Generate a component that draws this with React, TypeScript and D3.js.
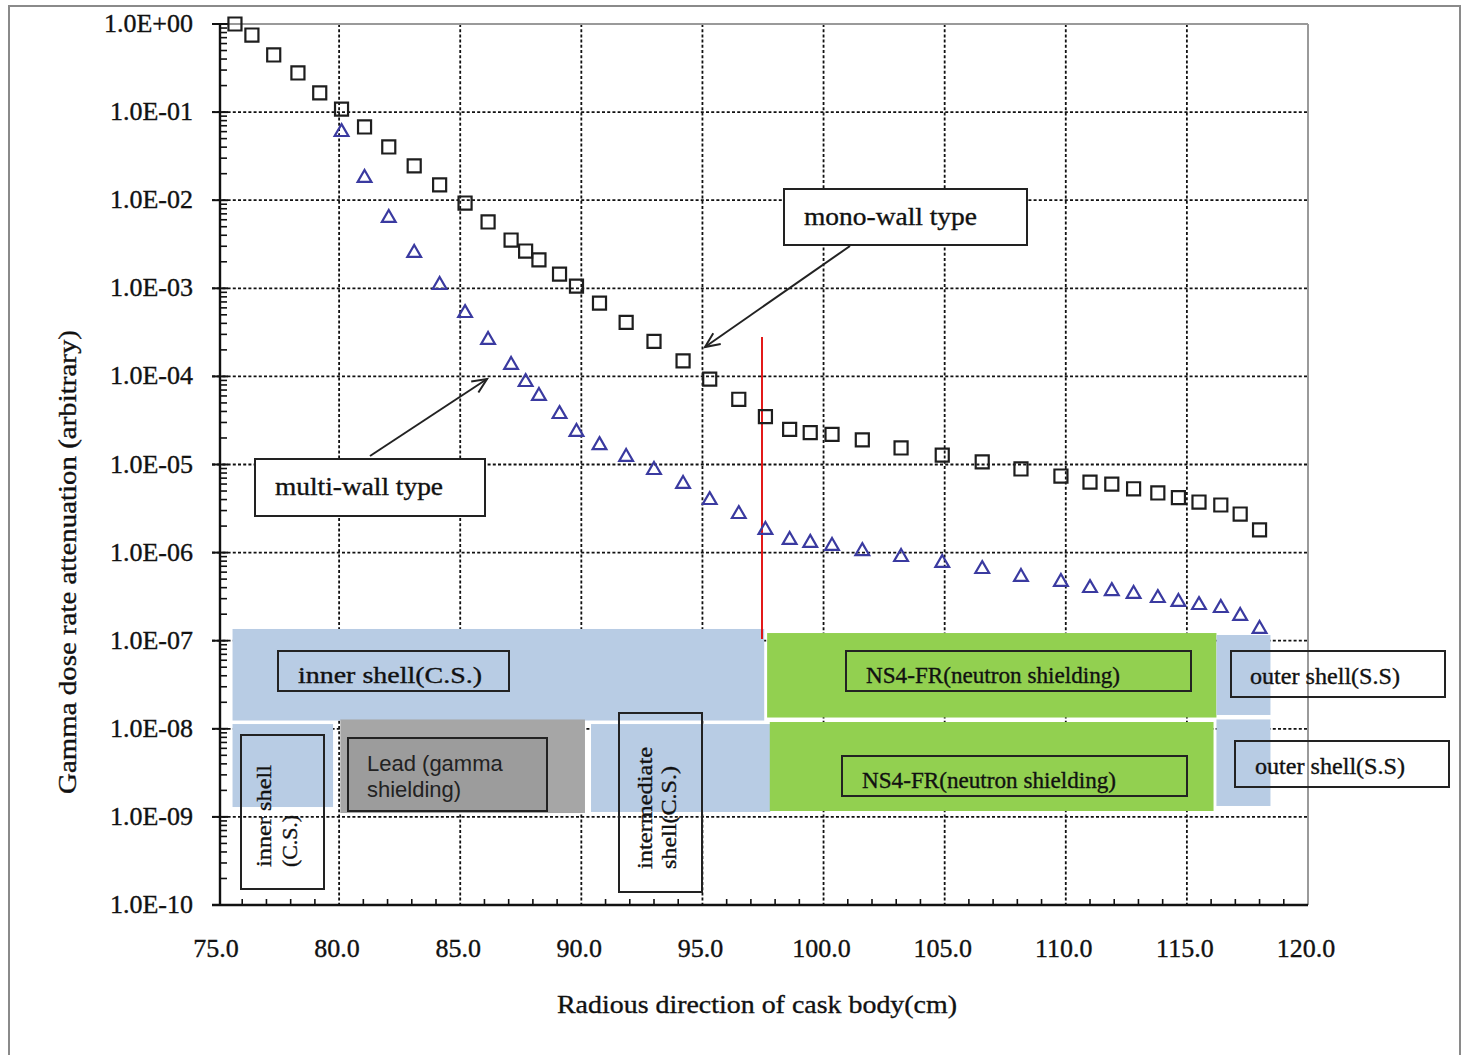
import React from 'react';
import * as d3 from 'd3';

// ---- data ----
const radius = [75.7, 76.4, 77.3, 78.3, 79.2, 80.1, 81.05, 82.05, 83.1, 84.15, 85.2, 86.15, 87.1, 87.7, 88.25, 89.1, 89.8, 90.75, 91.85, 93.0, 94.2, 95.3, 96.5, 97.6, 98.6, 99.45, 100.35, 101.6, 103.2, 104.9, 106.55, 108.15, 109.8, 111.0, 111.9, 112.8, 113.8, 114.65, 115.5, 116.4, 117.2, 118.0];
const monoWall = [1.0, 0.75, 0.445, 0.278, 0.165, 0.108, 0.0678, 0.0402, 0.0245, 0.0149, 0.00929, 0.00566, 0.00353, 0.00265, 0.0021, 0.00145, 0.00106, 6.8e-4, 4.1e-4, 2.5e-4, 1.5e-4, 9.3e-5, 5.5e-5, 3.5e-5, 2.5e-5, 2.3e-5, 2.2e-5, 1.9e-5, 1.54e-5, 1.28e-5, 1.07e-5, 8.9e-6, 7.4e-6, 6.3e-6, 6.0e-6, 5.3e-6, 4.75e-6, 4.2e-6, 3.75e-6, 3.47e-6, 2.74e-6, 1.81e-6];
const multiWall = [null, null, null, null, null, 0.0594, 0.0179, 0.00628, 0.00252, 0.00109, 5.24e-4, 2.59e-4, 1.35e-4, 8.63e-5, 6.0e-5, 3.74e-5, 2.34e-5, 1.66e-5, 1.22e-5, 8.66e-6, 6.01e-6, 3.95e-6, 2.74e-6, 1.81e-6, 1.39e-6, 1.29e-6, 1.19e-6, 1.04e-6, 8.91e-7, 7.62e-7, 6.51e-7, 5.29e-7, 4.64e-7, 3.96e-7, 3.66e-7, 3.39e-7, 3.05e-7, 2.75e-7, 2.54e-7, 2.35e-7, 1.91e-7, 1.36e-7];

const xTicks = [75, 80, 85, 90, 95, 100, 105, 110, 115, 120];
const xTickLabels = ['75.0', '80.0', '85.0', '90.0', '95.0', '100.0', '105.0', '110.0', '115.0', '120.0'];
const yExponents = [0, -1, -2, -3, -4, -5, -6, -7, -8, -9, -10];
const yTickLabels = ['1.0E+00', '1.0E-01', '1.0E-02', '1.0E-03', '1.0E-04', '1.0E-05', '1.0E-06', '1.0E-07', '1.0E-08', '1.0E-09', '1.0E-10'];

// shielding layers: [r0, r1] in cm, [top exponent, bottom exponent], material
const monoLayers = [
  { r0: 75.6, r1: 97.55, e0: -6.867, e1: -7.906, mat: 'cs' },
  { r0: 97.67, r1: 116.22, e0: -6.913, e1: -7.872, mat: 'ns' },
  { r0: 116.22, r1: 118.45, e0: -6.935, e1: -7.843, mat: 'cs' },
];
const multiLayers = [
  { r0: 75.6, r1: 79.75, e0: -7.946, e1: -8.888, mat: 'cs' },
  { r0: 80.05, r1: 90.15, e0: -7.894, e1: -8.956, mat: 'pb' },
  { r0: 90.4, r1: 97.8, e0: -7.946, e1: -8.944, mat: 'cs' },
  { r0: 97.78, r1: 116.1, e0: -7.923, e1: -8.933, mat: 'ns' },
  { r0: 116.22, r1: 118.45, e0: -7.894, e1: -8.876, mat: 'cs' },
];
const matFill: Record<string, string> = { cs: '#b8cce4', ns: '#92d050', pb: '#a6a6a6' };

const W = 1463, H = 1055;
const SERIF = "'Liberation Serif', 'Times New Roman', serif";
const SANS = "'Liberation Sans', Arial, sans-serif";

export default function App() {
  const x = d3.scaleLinear().domain([75, 120]).range([218, 1308]);
  const y = d3.scaleLog().domain([1e-10, 1]).range([905, 24]);
  const ye = (e: number) => y(Math.pow(10, e));

  const sq = d3.symbol(d3.symbolSquare, 170)();
  const tri = d3.symbol(d3.symbolTriangle, 82)();

  const minorY: number[] = [];
  for (let e = -10; e < 0; e++) for (let k = 2; k <= 9; k++) minorY.push(k * Math.pow(10, e));
  const minorX = d3.range(76, 120).filter((v) => v % 5 !== 0);

  const arrowHead = (x1: number, y1: number, x2: number, y2: number) => {
    const a = Math.atan2(y2 - y1, x2 - x1);
    const L = 16, s = 0.42;
    const p1 = [x2 - L * Math.cos(a - s), y2 - L * Math.sin(a - s)];
    const p2 = [x2 - L * Math.cos(a + s), y2 - L * Math.sin(a + s)];
    return `M${p1[0]},${p1[1]}L${x2},${y2}L${p2[0]},${p2[1]}`;
  };

  const grid = { stroke: '#111', strokeWidth: 1.8, strokeDasharray: '3,2.2' };
  const txt = { fill: '#111', stroke: '#111', strokeWidth: 0.35 };

  return (
    <svg width={W} height={H} style={{ position: 'absolute', left: 0, top: 0, background: '#fff' }}>
      <rect x={0} y={0} width={W} height={H} fill="#fff" />
      <rect x={9} y={6} width={1451} height={1070} fill="none" stroke="#8a8a8a" strokeWidth={2} />

      {/* gridlines */}
      {xTicks.slice(1, -1).map((v) => (
        <line key={'gx' + v} x1={x(v)} x2={x(v)} y1={y(1)} y2={y(1e-10)} {...grid} />
      ))}
      {yExponents.slice(1, -1).map((e) => (
        <line key={'gy' + e} x1={212} x2={x(120)} y1={ye(e)} y2={ye(e)} {...grid} />
      ))}

      {/* plot border top/right */}
      <line x1={x(75)} x2={x(120)} y1={y(1)} y2={y(1)} stroke="#9a9a9a" strokeWidth={2} />
      <line x1={x(120)} x2={x(120)} y1={y(1)} y2={y(1e-10)} stroke="#9a9a9a" strokeWidth={2} />

      {/* shielding layers */}
      {[...monoLayers, ...multiLayers].map((l, i) => (
        <rect key={'L' + i} x={x(l.r0)} width={x(l.r1) - x(l.r0)} y={ye(l.e0)} height={ye(l.e1) - ye(l.e0)} fill={matFill[l.mat]} />
      ))}

      {/* axes */}
      <line x1={220} x2={220} y1={y(1)} y2={y(1e-10)} stroke="#111" strokeWidth={2.4} />
      <line x1={212} x2={x(120)} y1={y(1e-10)} y2={y(1e-10)} stroke="#111" strokeWidth={2.6} />
      {yExponents.map((e) => (
        <line key={'ty' + e} x1={212} x2={228} y1={ye(e)} y2={ye(e)} stroke="#111" strokeWidth={2} />
      ))}
      {minorY.map((v, i) => (
        <line key={'my' + i} x1={220} x2={227} y1={y(v)} y2={y(v)} stroke="#111" strokeWidth={1.6} />
      ))}
      {minorX.map((v) => (
        <line key={'mx' + v} x1={x(v)} x2={x(v)} y1={y(1e-10)} y2={y(1e-10) - 6} stroke="#111" strokeWidth={1.6} />
      ))}

      {/* tick labels */}
      {yExponents.map((e, i) => (
        <text key={'yl' + e} x={193} y={ye(e) + 8} textAnchor="end" fontFamily={SERIF} fontSize={26} {...txt}>
          {yTickLabels[i]}
        </text>
      ))}
      {xTicks.map((v, i) => (
        <text key={'xl' + v} x={x(v) - 2} y={957} textAnchor="middle" fontFamily={SERIF} fontSize={26} {...txt}>
          {xTickLabels[i]}
        </text>
      ))}

      {/* axis titles */}
      <text x={757} y={1013} textAnchor="middle" fontFamily={SERIF} fontSize={26} {...txt} textLength={400} lengthAdjust="spacingAndGlyphs">
        Radious direction of cask body(cm)
      </text>
      <text transform="translate(76,562) rotate(-90)" textAnchor="middle" fontFamily={SERIF} fontSize={26} {...txt} textLength={464} lengthAdjust="spacingAndGlyphs">
        Gamma dose rate attenuation (arbitrary)
      </text>

      {/* red marker line */}
      <line x1={762} x2={762} y1={337} y2={639} stroke="#e00000" strokeWidth={1.8} />

      {/* data points */}
      {radius.map((r, i) => (
        <path key={'m' + i} d={sq!} transform={`translate(${x(r)},${y(monoWall[i])})`} fill="none" stroke="#1e1e1e" strokeWidth={2.2} />
      ))}
      {radius.map((r, i) =>
        multiWall[i] == null ? null : (
          <path key={'t' + i} d={tri!} transform={`translate(${x(r)},${y(multiWall[i] as number)})`} fill="none" stroke="#3a3aa0" strokeWidth={2.2} />
        )
      )}

      {/* callouts */}
      <rect x={784} y={189} width={243} height={56} fill="#fff" stroke="#222" strokeWidth={2} />
      <text x={804} y={225} fontFamily={SERIF} fontSize={25} {...txt} textLength={173} lengthAdjust="spacingAndGlyphs">mono-wall type</text>
      <line x1={850} y1={246} x2={705} y2={347} stroke="#222" strokeWidth={2} />
      <path d={arrowHead(850, 246, 705, 347)} fill="none" stroke="#222" strokeWidth={2} />

      <rect x={255} y={459} width={230} height={57} fill="#fff" stroke="#222" strokeWidth={2} />
      <text x={275} y={495} fontFamily={SERIF} fontSize={25} {...txt} textLength={168} lengthAdjust="spacingAndGlyphs">multi-wall type</text>
      <line x1={370} y1={456} x2={487} y2={379} stroke="#222" strokeWidth={2} />
      <path d={arrowHead(370, 456, 487, 379)} fill="none" stroke="#222" strokeWidth={2} />

      {/* layer labels */}
      <rect x={278} y={651} width={231} height={40} fill="none" stroke="#222" strokeWidth={2} />
      <text x={298} y={683} fontFamily={SERIF} fontSize={24} {...txt} textLength={184} lengthAdjust="spacingAndGlyphs">inner shell(C.S.)</text>

      <rect x={846} y={651} width={345} height={40} fill="none" stroke="#222" strokeWidth={2} />
      <text x={866} y={683} fontFamily={SERIF} fontSize={24} {...txt} textLength={254} lengthAdjust="spacingAndGlyphs">NS4-FR(neutron shielding)</text>

      <rect x={1231} y={651} width={214} height={46} fill="none" stroke="#222" strokeWidth={2} />
      <text x={1250} y={684} fontFamily={SERIF} fontSize={24} {...txt} textLength={150} lengthAdjust="spacingAndGlyphs">outer shell(S.S)</text>

      <rect x={348} y={738} width={199} height={73} fill="#9c9c9c" stroke="#222" strokeWidth={2} />
      <text x={367} y={771} fontFamily={SANS} fontSize={22} fill="#222">Lead (gamma</text>
      <text x={367} y={797} fontFamily={SANS} fontSize={22} fill="#222">shielding)</text>

      <rect x={842} y={756} width={345} height={40} fill="none" stroke="#222" strokeWidth={2} />
      <text x={862} y={788} fontFamily={SERIF} fontSize={24} {...txt} textLength={254} lengthAdjust="spacingAndGlyphs">NS4-FR(neutron shielding)</text>

      <rect x={1235} y={741} width={214} height={46} fill="none" stroke="#222" strokeWidth={2} />
      <text x={1255} y={774} fontFamily={SERIF} fontSize={24} {...txt} textLength={150} lengthAdjust="spacingAndGlyphs">outer shell(S.S)</text>

      <rect x={241} y={735} width={83} height={154} fill="none" stroke="#222" strokeWidth={2} />
      <text transform="translate(271,867) rotate(-90)" fontFamily={SERIF} fontSize={22} {...txt} textLength={102} lengthAdjust="spacingAndGlyphs">inner shell</text>
      <text transform="translate(297,867) rotate(-90)" fontFamily={SERIF} fontSize={22} {...txt} textLength={52} lengthAdjust="spacingAndGlyphs">(C.S.)</text>

      <rect x={619} y={713} width={83} height={179} fill="none" stroke="#222" strokeWidth={2} />
      <text transform="translate(652,869) rotate(-90)" fontFamily={SERIF} fontSize={22} {...txt} textLength={122} lengthAdjust="spacingAndGlyphs">intermediate</text>
      <text transform="translate(676,869) rotate(-90)" fontFamily={SERIF} fontSize={22} {...txt} textLength={103} lengthAdjust="spacingAndGlyphs">shell(C.S.)</text>
    </svg>
  );
}
